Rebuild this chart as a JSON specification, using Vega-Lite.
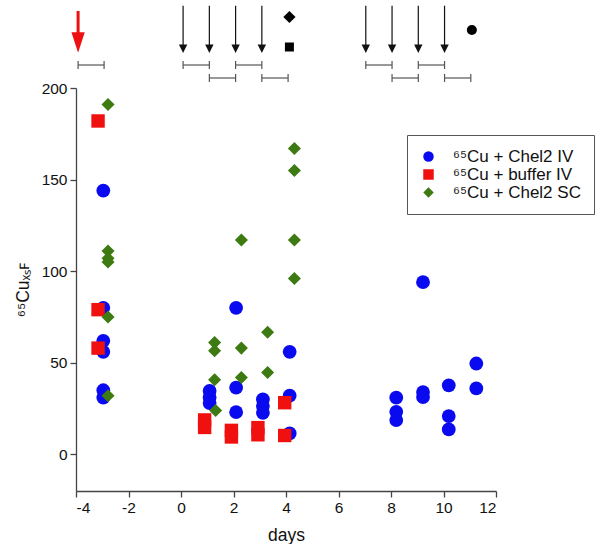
{
  "$schema": "https://vega.github.io/schema/vega-lite/v6.json",
  "padding": {"left": 14, "top": 0, "right": 0, "bottom": 0},
  "bounds": "flush",
  "spacing": 0,
  "config": {
    "view": {"stroke": null},
    "font": "Liberation Sans",
    "axis": {
      "grid": false,
      "domainColor": "#444",
      "tickColor": "#444",
      "domainWidth": 1.3,
      "tickWidth": 1.3,
      "tickSize": 6,
      "labelFontSize": 15.5,
      "labelColor": "#111",
      "titleFontSize": 17.5,
      "titleFontWeight": "normal",
      "titleColor": "#111",
      "labelFont": "Liberation Sans",
      "titleFont": "Liberation Sans"
    }
  },
  "datasets": {
    "points": [
      {"day": -2.96, "value": 144, "group": "⁶⁵Cu + Chel2 IV"},
      {"day": -2.96, "value": 80, "group": "⁶⁵Cu + Chel2 IV"},
      {"day": -2.96, "value": 62, "group": "⁶⁵Cu + Chel2 IV"},
      {"day": -2.96, "value": 56, "group": "⁶⁵Cu + Chel2 IV"},
      {"day": -2.96, "value": 35, "group": "⁶⁵Cu + Chel2 IV"},
      {"day": -2.96, "value": 31, "group": "⁶⁵Cu + Chel2 IV"},
      {"day": 1.09, "value": 34.6, "group": "⁶⁵Cu + Chel2 IV"},
      {"day": 1.09, "value": 31, "group": "⁶⁵Cu + Chel2 IV"},
      {"day": 1.09, "value": 28, "group": "⁶⁵Cu + Chel2 IV"},
      {"day": 2.1, "value": 80, "group": "⁶⁵Cu + Chel2 IV"},
      {"day": 2.1, "value": 36.4, "group": "⁶⁵Cu + Chel2 IV"},
      {"day": 2.1, "value": 23, "group": "⁶⁵Cu + Chel2 IV"},
      {"day": 3.12, "value": 30, "group": "⁶⁵Cu + Chel2 IV"},
      {"day": 3.12, "value": 26.4, "group": "⁶⁵Cu + Chel2 IV"},
      {"day": 3.12, "value": 22.7, "group": "⁶⁵Cu + Chel2 IV"},
      {"day": 4.14, "value": 56, "group": "⁶⁵Cu + Chel2 IV"},
      {"day": 4.14, "value": 32, "group": "⁶⁵Cu + Chel2 IV"},
      {"day": 4.14, "value": 11.4, "group": "⁶⁵Cu + Chel2 IV"},
      {"day": 8.2, "value": 31, "group": "⁶⁵Cu + Chel2 IV"},
      {"day": 8.2, "value": 23.2, "group": "⁶⁵Cu + Chel2 IV"},
      {"day": 8.2, "value": 18.7, "group": "⁶⁵Cu + Chel2 IV"},
      {"day": 9.22, "value": 94, "group": "⁶⁵Cu + Chel2 IV"},
      {"day": 9.22, "value": 34, "group": "⁶⁵Cu + Chel2 IV"},
      {"day": 9.22, "value": 31.3, "group": "⁶⁵Cu + Chel2 IV"},
      {"day": 10.2, "value": 37.7, "group": "⁶⁵Cu + Chel2 IV"},
      {"day": 10.2, "value": 20.9, "group": "⁶⁵Cu + Chel2 IV"},
      {"day": 10.2, "value": 13.6, "group": "⁶⁵Cu + Chel2 IV"},
      {"day": 11.25, "value": 49.6, "group": "⁶⁵Cu + Chel2 IV"},
      {"day": 11.25, "value": 36, "group": "⁶⁵Cu + Chel2 IV"},
      {"day": -3.16, "value": 182, "group": "⁶⁵Cu + buffer IV"},
      {"day": -3.16, "value": 79, "group": "⁶⁵Cu + buffer IV"},
      {"day": -3.16, "value": 58, "group": "⁶⁵Cu + buffer IV"},
      {"day": 0.9, "value": 18.8, "group": "⁶⁵Cu + buffer IV"},
      {"day": 0.9, "value": 14.7, "group": "⁶⁵Cu + buffer IV"},
      {"day": 1.92, "value": 13.1, "group": "⁶⁵Cu + buffer IV"},
      {"day": 1.92, "value": 9.5, "group": "⁶⁵Cu + buffer IV"},
      {"day": 2.93, "value": 14.6, "group": "⁶⁵Cu + buffer IV"},
      {"day": 2.93, "value": 10.7, "group": "⁶⁵Cu + buffer IV"},
      {"day": 3.95, "value": 28.2, "group": "⁶⁵Cu + buffer IV"},
      {"day": 3.95, "value": 10.3, "group": "⁶⁵Cu + buffer IV"},
      {"day": -2.78, "value": 191, "group": "⁶⁵Cu + Chel2 SC"},
      {"day": -2.78, "value": 111, "group": "⁶⁵Cu + Chel2 SC"},
      {"day": -2.78, "value": 107, "group": "⁶⁵Cu + Chel2 SC"},
      {"day": -2.78, "value": 105, "group": "⁶⁵Cu + Chel2 SC"},
      {"day": -2.78, "value": 75, "group": "⁶⁵Cu + Chel2 SC"},
      {"day": -2.78, "value": 32, "group": "⁶⁵Cu + Chel2 SC"},
      {"day": 1.28, "value": 61, "group": "⁶⁵Cu + Chel2 SC"},
      {"day": 1.28, "value": 56.6, "group": "⁶⁵Cu + Chel2 SC"},
      {"day": 1.28, "value": 40.7, "group": "⁶⁵Cu + Chel2 SC"},
      {"day": 1.32, "value": 24, "group": "⁶⁵Cu + Chel2 SC"},
      {"day": 2.3, "value": 117, "group": "⁶⁵Cu + Chel2 SC"},
      {"day": 2.3, "value": 58, "group": "⁶⁵Cu + Chel2 SC"},
      {"day": 2.3, "value": 42, "group": "⁶⁵Cu + Chel2 SC"},
      {"day": 3.3, "value": 66.7, "group": "⁶⁵Cu + Chel2 SC"},
      {"day": 3.3, "value": 44.7, "group": "⁶⁵Cu + Chel2 SC"},
      {"day": 4.32, "value": 167, "group": "⁶⁵Cu + Chel2 SC"},
      {"day": 4.32, "value": 155, "group": "⁶⁵Cu + Chel2 SC"},
      {"day": 4.32, "value": 117, "group": "⁶⁵Cu + Chel2 SC"},
      {"day": 4.32, "value": 96, "group": "⁶⁵Cu + Chel2 SC"}
    ],
    "redArrow": [{"x": -3.92, "top": 11, "bottom": 36, "head": 42.5}],
    "blackArrows": [
      {"x": 0.08, "top": 5.7, "bottom": 46, "head": 48.7},
      {"x": 1.08, "top": 5.7, "bottom": 46, "head": 48.7},
      {"x": 2.08, "top": 5.7, "bottom": 46, "head": 48.7},
      {"x": 3.08, "top": 5.7, "bottom": 46, "head": 48.7},
      {"x": 7.04, "top": 5.7, "bottom": 46, "head": 48.7},
      {"x": 8.04, "top": 5.7, "bottom": 46, "head": 48.7},
      {"x": 9.04, "top": 5.7, "bottom": 46, "head": 48.7},
      {"x": 10.04, "top": 5.7, "bottom": 46, "head": 48.7}
    ],
    "brackets": [
      {"start": -3.92, "end": -2.93, "row": 65},
      {"start": 0.08, "end": 1.08, "row": 65},
      {"start": 1.08, "end": 2.08, "row": 78},
      {"start": 2.08, "end": 3.08, "row": 65},
      {"start": 3.08, "end": 4.08, "row": 78},
      {"start": 7.04, "end": 8.04, "row": 65},
      {"start": 8.04, "end": 9.04, "row": 78},
      {"start": 9.04, "end": 10.04, "row": 65},
      {"start": 10.04, "end": 11.04, "row": 78}
    ],
    "keys": [
      {"x": 4.13, "y": 17, "shape": "diamond", "size": 150},
      {"x": 4.13, "y": 47, "shape": "square", "size": 81},
      {"x": 11.08, "y": 30, "shape": "circle", "size": 100}
    ]
  },
  "resolve": {"legend": {"color": "independent", "shape": "independent"}},
  "vconcat": [
    {
      "width": 420,
      "height": 88,
      "layer": [
        {
          "data": {"name": "redArrow"},
          "mark": {"type": "rule", "color": "#ee1111", "strokeWidth": 3},
          "encoding": {
            "x": {"field": "x", "type": "quantitative", "scale": {"domain": [-4, 12]}, "axis": null},
            "y": {"field": "top", "type": "quantitative", "scale": {"domain": [0, 88], "reverse": true}, "axis": null},
            "y2": {"field": "bottom"}
          }
        },
        {
          "data": {"name": "redArrow"},
          "mark": {"type": "point", "shape": "M-0.65,-1L0.65,-1L0,1Z", "filled": true, "color": "#ee1111", "size": 420, "opacity": 1},
          "encoding": {
            "x": {"field": "x", "type": "quantitative", "scale": {"domain": [-4, 12]}, "axis": null},
            "y": {"field": "head", "type": "quantitative", "scale": {"domain": [0, 88], "reverse": true}, "axis": null}
          }
        },
        {
          "data": {"name": "blackArrows"},
          "mark": {"type": "rule", "color": "#111", "strokeWidth": 1.2},
          "encoding": {
            "x": {"field": "x", "type": "quantitative", "scale": {"domain": [-4, 12]}, "axis": null},
            "y": {"field": "top", "type": "quantitative", "scale": {"domain": [0, 88], "reverse": true}, "axis": null},
            "y2": {"field": "bottom"}
          }
        },
        {
          "data": {"name": "blackArrows"},
          "mark": {"type": "point", "shape": "M-1,-1L1,-1L0,1Z", "filled": true, "color": "#111", "size": 70, "opacity": 1},
          "encoding": {
            "x": {"field": "x", "type": "quantitative", "scale": {"domain": [-4, 12]}, "axis": null},
            "y": {"field": "head", "type": "quantitative", "scale": {"domain": [0, 88], "reverse": true}, "axis": null}
          }
        },
        {
          "data": {"name": "brackets"},
          "mark": {"type": "rule", "color": "#555", "strokeWidth": 1.2},
          "encoding": {
            "x": {"field": "start", "type": "quantitative", "scale": {"domain": [-4, 12]}, "axis": null},
            "x2": {"field": "end"},
            "y": {"field": "row", "type": "quantitative", "scale": {"domain": [0, 88], "reverse": true}, "axis": null}
          }
        },
        {
          "data": {"name": "brackets"},
          "mark": {"type": "rule", "color": "#555", "strokeWidth": 1.2, "yOffset": -4, "y2Offset": 4},
          "encoding": {
            "x": {"field": "start", "type": "quantitative", "scale": {"domain": [-4, 12]}, "axis": null},
            "y": {"field": "row", "type": "quantitative", "scale": {"domain": [0, 88], "reverse": true}, "axis": null},
            "y2": {"field": "row"}
          }
        },
        {
          "data": {"name": "brackets"},
          "mark": {"type": "rule", "color": "#555", "strokeWidth": 1.2, "yOffset": -4, "y2Offset": 4},
          "encoding": {
            "x": {"field": "end", "type": "quantitative", "scale": {"domain": [-4, 12]}, "axis": null},
            "y": {"field": "row", "type": "quantitative", "scale": {"domain": [0, 88], "reverse": true}, "axis": null},
            "y2": {"field": "row"}
          }
        },
        {
          "data": {"name": "keys"},
          "mark": {"type": "point", "filled": true, "color": "#000", "opacity": 1},
          "encoding": {
            "x": {"field": "x", "type": "quantitative", "scale": {"domain": [-4, 12]}, "axis": null},
            "y": {"field": "y", "type": "quantitative", "scale": {"domain": [0, 88], "reverse": true}, "axis": null},
            "shape": {"field": "shape", "type": "nominal", "scale": null, "legend": null},
            "size": {"field": "size", "type": "quantitative", "scale": null, "legend": null}
          }
        }
      ]
    },
    {
      "width": 420,
      "height": 403,
      "data": {"name": "points"},
      "mark": {"type": "point", "filled": true, "opacity": 1},
      "encoding": {
        "x": {
          "field": "day", "type": "quantitative", "title": "days",
          "scale": {"domain": [-4, 12], "nice": false, "zero": false},
          "axis": {"values": [-4, -2, 0, 2, 4, 6, 8, 10, 12], "labelExpr": "'' + datum.value", "labelPadding": 3, "titlePadding": 11}
        },
        "y": {
          "field": "value", "type": "quantitative", "title": "⁶⁵Cuₓₛꜰ",
          "scale": {"domain": [-20, 200], "nice": false, "zero": false},
          "axis": {"values": [0, 50, 100, 150, 200], "labelPadding": 3, "titlePadding": 9}
        },
        "color": {
          "field": "group", "type": "nominal",
          "scale": {"domain": ["⁶⁵Cu + Chel2 IV", "⁶⁵Cu + buffer IV", "⁶⁵Cu + Chel2 SC"], "range": ["#0a0af0", "#f01010", "#3d7a12"]},
          "legend": {
            "title": null, "orient": "none", "legendX": 331, "legendY": 47,
            "strokeColor": "#555", "padding": 13, "labelFontSize": 17, "labelFont": "Liberation Sans",
            "labelColor": "#111", "symbolSize": 110, "rowPadding": 0, "labelOffset": 16, "symbolStrokeWidth": 0
          }
        },
        "shape": {
          "field": "group", "type": "nominal",
          "scale": {"domain": ["⁶⁵Cu + Chel2 IV", "⁶⁵Cu + buffer IV", "⁶⁵Cu + Chel2 SC"], "range": ["circle", "square", "diamond"]}
        },
        "size": {
          "field": "group", "type": "nominal",
          "scale": {"domain": ["⁶⁵Cu + Chel2 IV", "⁶⁵Cu + buffer IV", "⁶⁵Cu + Chel2 SC"], "range": [190, 170, 260]},
          "legend": null
        }
      }
    }
  ]
}
